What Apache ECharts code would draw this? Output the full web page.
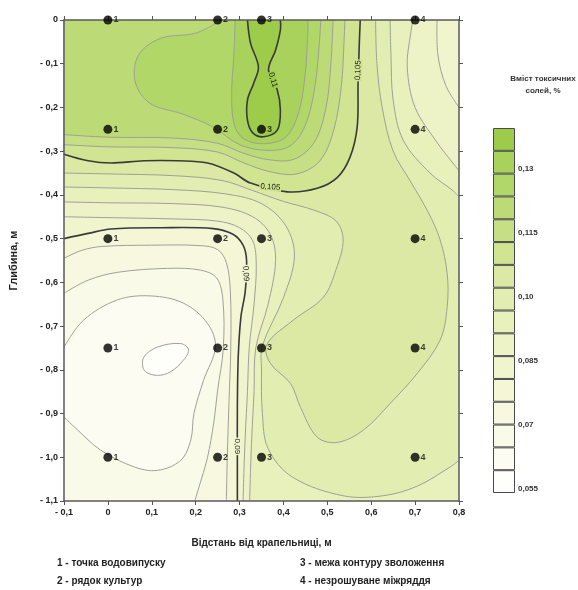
<!DOCTYPE html>
<html>
<head>
<meta charset="utf-8">
<script src="https://cdn.jsdelivr.net/npm/echarts@6/dist/echarts.min.js"></script>
<style>
  html, body { margin: 0; padding: 0; background: #ffffff; }
  #chart { width: 578px; height: 590px; }
</style>
</head>
<body>
<div id="chart"></div>
<script>
// Sampling points: distance from the dripper (m) and depth (m)
const pointX = [0, 0.25, 0.35, 0.7];
const pointY = [0, -0.25, -0.5, -0.75, -1.0];
const pointNames = ['1', '2', '3', '4'];

// Colour-scale boxes (toxic salt content, %), bottom to top
const legendLevels = [0.055, 0.06, 0.065, 0.07, 0.075, 0.08, 0.085, 0.09,
                      0.095, 0.1, 0.105, 0.11, 0.115, 0.12, 0.125, 0.13];
const legendTicks = [0.055, 0.07, 0.085, 0.1, 0.115, 0.13];
const legendTickText = ['0,055', '0,07', '0,085', '0,10', '0,115', '0,13'];

// Isolines of toxic salt content: [distance, depth]
const isoB = [[-0.1,-0.5],[-0.045,-0.488],[0.007,-0.478],[0.12,-0.475],[0.24,-0.477],[0.285,-0.49],
  [0.308,-0.515],[0.316,-0.55],[0.313,-0.62],[0.303,-0.68],[0.297,-0.77],[0.295,-0.886],[0.295,-1.0],[0.295,-1.1]];
const iso087 = [[-0.1,-0.545],[-0.06,-0.527],[-0.015,-0.518],[0.1,-0.515],[0.21,-0.516],[0.25,-0.525],
  [0.27,-0.555],[0.279,-0.62],[0.28,-0.75],[0.276,-0.87],[0.272,-1.0],[0.27,-1.1]];
const iso084 = [[-0.1,-0.625],[-0.045,-0.595],[0.022,-0.577],[0.136,-0.568],[0.211,-0.572],[0.248,-0.59],
  [0.262,-0.64],[0.263,-0.75],[0.25,-0.847],[0.241,-0.922],[0.227,-1.0],[0.207,-1.07],[0.198,-1.1]];
const iso081 = [[-0.1,-0.748],[-0.055,-0.686],[0.022,-0.64],[0.098,-0.631],[0.173,-0.648],[0.227,-0.694],
  [0.245,-0.748],[0.218,-0.824],[0.196,-0.9],[0.189,-0.96],[0.166,-1.007],[0.113,-1.03],[0.06,-1.022],
  [-0.016,-0.984],[-0.077,-0.93],[-0.1,-0.908]];
const iso078 = [[0.082,-0.771],[0.113,-0.748],[0.166,-0.74],[0.184,-0.755],[0.166,-0.785],[0.136,-0.808],
  [0.105,-0.812],[0.082,-0.8]];
const isoP4 = [[-0.1,-0.45],[0.0,-0.452],[0.15,-0.455],[0.25,-0.46],[0.3,-0.475],[0.33,-0.505],[0.338,-0.56],
  [0.333,-0.65],[0.322,-0.75],[0.318,-0.85],[0.313,-0.95],[0.31,-1.03],[0.308,-1.1]];
const isoP4b = [[0.8,-0.2],[0.77,-0.15],[0.752,-0.08],[0.75,0]];
const isoP3 = [[-0.1,-0.416],[0.0,-0.418],[0.15,-0.42],[0.26,-0.428],[0.33,-0.45],[0.37,-0.49],[0.382,-0.55],
  [0.365,-0.65],[0.337,-0.75],[0.333,-0.85],[0.328,-0.95],[0.325,-1.03],[0.323,-1.1]];
const isoP3b = [[0.8,-0.345],[0.786,-0.327],[0.75,-0.28],[0.7,-0.2],[0.682,-0.107],[0.69,-0.03],[0.695,0]];
const isoP2 = [[-0.1,-0.382],[0.0,-0.384],[0.15,-0.388],[0.27,-0.398],[0.35,-0.42],[0.405,-0.47],[0.425,-0.54],
  [0.4,-0.635],[0.352,-0.745],[0.35,-0.8],[0.352,-0.9],[0.365,-0.98],[0.42,-1.045],[0.536,-1.088],
  [0.627,-1.088],[0.705,-1.066],[0.78,-1.022],[0.8,-1.007]];
const isoP2b = [[0.8,-0.405],[0.786,-0.39],[0.734,-0.35],[0.673,-0.275],[0.65,-0.183],[0.645,-0.08],[0.643,0]];
const isoP1 = [[-0.1,-0.35],[0.0,-0.352],[0.15,-0.356],[0.26,-0.367],[0.33,-0.39],[0.4,-0.415],[0.47,-0.435],
  [0.52,-0.46],[0.536,-0.503],[0.52,-0.57],[0.491,-0.634],[0.423,-0.686],[0.362,-0.742],[0.37,-0.785],
  [0.416,-0.831],[0.439,-0.886],[0.477,-0.954],[0.523,-0.966],[0.582,-0.938],[0.643,-0.877],[0.705,-0.808],
  [0.757,-0.732],[0.773,-0.657],[0.773,-0.579],[0.757,-0.503],[0.73,-0.44],[0.69,-0.37],[0.65,-0.3],
  [0.625,-0.2],[0.613,-0.1],[0.61,0]];
const isoA = [[-0.1,-0.307],[-0.045,-0.322],[0.007,-0.327],[0.082,-0.322],[0.16,-0.322],[0.227,-0.327],
  [0.287,-0.35],[0.325,-0.373],[0.409,-0.393],[0.477,-0.385],[0.523,-0.36],[0.552,-0.313],[0.568,-0.245],
  [0.57,-0.145],[0.573,-0.05],[0.575,0]];
const isoU1 = [[-0.1,-0.285],[0.0,-0.29],[0.15,-0.292],[0.25,-0.302],[0.31,-0.327],[0.37,-0.347],[0.43,-0.352],
  [0.483,-0.322],[0.515,-0.25],[0.532,-0.15],[0.538,-0.05],[0.54,0]];
const isoU2 = [[-0.1,-0.262],[0.0,-0.268],[0.15,-0.27],[0.25,-0.282],[0.31,-0.305],[0.37,-0.32],[0.425,-0.318],
  [0.47,-0.28],[0.497,-0.2],[0.508,-0.1],[0.513,0]];
const isoU3 = [[0.26,0],[0.2,-0.03],[0.12,-0.042],[0.07,-0.08],[0.062,-0.14],[0.095,-0.19],[0.17,-0.215],
  [0.24,-0.245],[0.3,-0.285],[0.36,-0.298],[0.415,-0.288],[0.45,-0.24],[0.472,-0.15],[0.482,-0.05],[0.485,0]];
const isoU4 = [[0.29,0],[0.287,-0.08],[0.282,-0.17],[0.288,-0.24],[0.31,-0.272],[0.355,-0.283],[0.405,-0.268],
  [0.435,-0.21],[0.45,-0.12],[0.455,-0.04],[0.456,0]];
const isoC = [[0.318,0],[0.325,-0.053],[0.343,-0.107],[0.332,-0.145],[0.318,-0.183],[0.318,-0.229],[0.33,-0.258],
  [0.355,-0.267],[0.386,-0.252],[0.393,-0.206],[0.386,-0.16],[0.366,-0.114],[0.382,-0.069],[0.393,-0.023],[0.393,0]];

// Isoline levels, %
const contours = [
  { key: 'B',   level: 0.09,  pts: isoB,   band: 5,  major: true },
  { key: 'b87', level: 0.087, pts: iso087, band: 4 },
  { key: 'b84', level: 0.084, pts: iso084, band: 3 },
  { key: 'b81', level: 0.081, pts: iso081, band: 2 },
  { key: 'b78', level: 0.078, pts: iso078, band: 1, closed: true },
  { key: 'P4',  level: 0.093, pts: isoP4,  band: 6 },
  { key: 'P4b', level: 0.093, pts: isoP4b, band: 6 },
  { key: 'P3',  level: 0.096, pts: isoP3,  band: 7 },
  { key: 'P3b', level: 0.096, pts: isoP3b, band: 7 },
  { key: 'P2',  level: 0.099, pts: isoP2,  band: 8 },
  { key: 'P2b', level: 0.099, pts: isoP2b, band: 8 },
  { key: 'P1',  level: 0.102, pts: isoP1,  band: 9 },
  { key: 'A',   level: 0.105, pts: isoA,   band: 10, major: true },
  { key: 'U1',  level: 0.106, pts: isoU1,  band: 11 },
  { key: 'U2',  level: 0.107, pts: isoU2,  band: 12 },
  { key: 'U3',  level: 0.108, pts: isoU3,  band: 13 },
  { key: 'U4',  level: 0.109, pts: isoU4,  band: 14 },
  { key: 'C',   level: 0.11,  pts: isoC,   band: 15, major: true }
];

// Labelled isolines: which line and where along it
const lineLabels = [
  { line: 'A', at: [0.37, -0.382] },
  { line: 'A', at: [0.57, -0.115] },
  { line: 'C', at: [0.376, -0.137] },
  { line: 'B', at: [0.314, -0.58] },
  { line: 'B', at: [0.295, -0.975] }
];

// Band colours, lowest to highest
const bandColors = ['#fefefb', '#fcfcf3', '#fafae9', '#f7f8df', '#f4f6d6', '#f1f5ce', '#edf3c6', '#e8f0bc',
                    '#e2edb1', '#dbe9a4', '#d0e492', '#c6df84', '#bcdb76', '#b2d769', '#a8d25b', '#9ccc4a'];

const XMIN = -0.1, XMAX = 0.8, YMIN = -1.1, YMAX = 0, PAD = 0.25;
const CORNER = {
  TL: [XMIN - PAD, YMAX + PAD], TR: [XMAX + PAD, YMAX + PAD],
  BR: [XMAX + PAD, YMIN - PAD], BL: [XMIN - PAD, YMIN - PAD]
};

// Push an isoline end that lies on the frame outwards, so filled regions close outside the plot
function ext(p) {
  const e = 1e-6;
  if (p[0] <= XMIN + e) return [XMIN - PAD, p[1]];
  if (p[0] >= XMAX - e) return [XMAX + PAD, p[1]];
  if (p[1] >= YMAX - e) return [p[0], YMAX + PAD];
  if (p[1] <= YMIN + e) return [p[0], YMIN - PAD];
  return null;
}
function ring(parts) {
  const out = [];
  parts.forEach(part => {
    if (typeof part === 'string') { out.push(CORNER[part]); return; }
    const a = ext(part[0]), b = ext(part[part.length - 1]);
    if (a) out.push(a);
    part.forEach(p => out.push(p));
    if (b) out.push(b);
  });
  return out;
}

// Filled regions: sub-level basins first (descending), then super-level areas (ascending)
const fills = [
  { band: 4,  parts: [isoB, 'BL'] },
  { band: 3,  parts: [iso087, 'BL'] },
  { band: 2,  parts: [iso084, 'BL'] },
  { band: 1,  parts: [iso081] },
  { band: 0,  parts: [iso078] },
  { band: 6,  parts: [isoP4, 'BR', isoP4b, 'TL'] },
  { band: 7,  parts: [isoP3, 'BR', isoP3b, 'TL'] },
  { band: 8,  parts: [isoP2, isoP2b, 'TL'] },
  { band: 9,  parts: [isoP1, 'TL'] },
  { band: 10, parts: [isoA, 'TL'] },
  { band: 11, parts: [isoU1, 'TL'] },
  { band: 12, parts: [isoU2, 'TL'] },
  { band: 13, parts: [isoU3] },
  { band: 14, parts: [isoU4] },
  { band: 15, parts: [isoC] }
];

const SMOOTH = 0.35;
const FONT = 'Liberation Sans, Arial, sans-serif';

function fmtTick(v) {
  if (Math.abs(v) < 1e-9) return '0';
  const s = Math.abs(v).toFixed(1).replace('.', ',');
  return v < 0 ? '- ' + s : s;
}
function fmtLevel(v) { return String(v).replace('.', ','); }

const dots = [];
pointY.forEach(y => pointX.forEach((x, i) => dots.push([x, y, i])));

const chart = echarts.init(document.getElementById('chart'), null, { renderer: 'canvas' });

const tickStyle = { color: '#555', width: 1 };
const axisLineStyle = { color: '#5a5a5a', width: 1.5 };
const tickLabel = { fontSize: 9, fontWeight: 'bold', color: '#222', fontFamily: FONT };

chart.setOption({
  animation: false,
  textStyle: { fontFamily: FONT },
  grid: [
    { left: 63, top: 20, width: 396, height: 481, show: true, backgroundColor: bandColors[5], borderWidth: 0 },
    { left: 493, top: 128, width: 22, height: 365 }
  ],
  xAxis: [
    {
      gridIndex: 0, type: 'value', min: XMIN, max: XMAX, interval: 0.1, position: 'bottom', z: 10,
      axisLine: { show: true, onZero: false, lineStyle: axisLineStyle },
      axisTick: { show: true, inside: false, length: 4, lineStyle: tickStyle },
      axisLabel: Object.assign({ formatter: fmtTick, margin: 7 }, tickLabel),
      splitLine: { show: false },
      name: 'Відстань від крапельниці, м', nameLocation: 'middle', nameGap: 37,
      nameTextStyle: { fontSize: 10, fontWeight: 'bold', color: '#222', fontFamily: FONT }
    },
    {
      gridIndex: 0, type: 'value', min: XMIN, max: XMAX, interval: 0.1, position: 'top', z: 10,
      axisLine: { show: true, onZero: false, lineStyle: axisLineStyle },
      axisTick: { show: true, inside: false, length: 4, lineStyle: tickStyle },
      axisLabel: { show: false }, splitLine: { show: false }
    },
    { gridIndex: 1, type: 'value', min: 0, max: 1, show: false }
  ],
  yAxis: [
    {
      gridIndex: 0, type: 'value', min: YMIN, max: YMAX, interval: 0.1, position: 'left', z: 10,
      axisLine: { show: true, onZero: false, lineStyle: axisLineStyle },
      axisTick: { show: true, inside: false, length: 4, lineStyle: tickStyle },
      axisLabel: Object.assign({ formatter: fmtTick, margin: 6 }, tickLabel),
      splitLine: { show: false },
      name: 'Глибина, м', nameLocation: 'middle', nameGap: 45, nameRotate: 90,
      nameTextStyle: { fontSize: 11, fontWeight: 'bold', color: '#222', fontFamily: FONT }
    },
    {
      gridIndex: 0, type: 'value', min: YMIN, max: YMAX, interval: 0.1, position: 'right', z: 10,
      axisLine: { show: true, onZero: false, lineStyle: axisLineStyle },
      axisTick: { show: true, inside: false, length: 4, lineStyle: tickStyle },
      axisLabel: { show: false }, splitLine: { show: false }
    },
    {
      gridIndex: 1, type: 'category', data: legendLevels.map(String), show: false
    },
    {
      gridIndex: 1, type: 'value', min: 0.05392, max: 0.13962, position: 'right',
      axisLine: { show: false }, axisTick: { show: false }, splitLine: { show: false },
      axisLabel: {
        customValues: legendTicks, margin: 3, fontSize: 8, fontWeight: 'bold', color: '#333', fontFamily: FONT,
        formatter: v => {
          let k = 0;
          legendTicks.forEach((t, i) => { if (Math.abs(t - v) < Math.abs(legendTicks[k] - v)) k = i; });
          return legendTickText[k];
        }
      }
    }
  ],
  graphic: [
    { type: 'text', x: 543, y: 73, silent: true,
      style: { text: 'Вміст токсичних\nсолей, %', font: 'bold 8px ' + FONT, fill: '#333',
               textAlign: 'center', align: 'center', lineHeight: 12 } },
    { type: 'text', x: 57, y: 558, silent: true,
      style: { text: '1 - точка водовипуску', font: 'bold 10px ' + FONT, fill: '#222' } },
    { type: 'text', x: 57, y: 576, silent: true,
      style: { text: '2 - рядок культур', font: 'bold 10px ' + FONT, fill: '#222' } },
    { type: 'text', x: 300, y: 558, silent: true,
      style: { text: '3 - межа контуру зволоження', font: 'bold 10px ' + FONT, fill: '#222' } },
    { type: 'text', x: 300, y: 576, silent: true,
      style: { text: '4 - незрошуване міжряддя', font: 'bold 10px ' + FONT, fill: '#222' } }
  ],
  series: [
    {
      // colour bands between isolines
      type: 'custom', xAxisIndex: 0, yAxisIndex: 0, clip: true, silent: true, z: 1,
      data: fills.map(() => [0.35, -0.55]),
      renderItem: (params, api) => {
        const f = fills[params.dataIndex];
        const pts = ring(f.parts).map(p => api.coord(p));
        const c = bandColors[f.band];
        return { type: 'polygon', shape: { points: pts, smooth: SMOOTH },
                 style: { fill: c, stroke: c, lineWidth: 0.6 } };
      }
    },
    {
      // isolines
      type: 'custom', xAxisIndex: 0, yAxisIndex: 0, clip: true, silent: true, z: 3,
      data: contours.map(() => [0.35, -0.55]),
      renderItem: (params, api) => {
        const c = contours[params.dataIndex];
        const pts = c.pts.map(p => api.coord(p));
        const style = c.major
          ? { fill: 'none', stroke: '#3a3a3a', lineWidth: 1.6 }
          : { fill: 'none', stroke: '#a0a098', lineWidth: 1 };
        return { type: c.closed ? 'polygon' : 'polyline', shape: { points: pts, smooth: SMOOTH }, style };
      }
    },
    {
      // isoline value labels
      type: 'custom', xAxisIndex: 0, yAxisIndex: 0, clip: true, silent: true, z: 4,
      data: lineLabels.map(() => [0.35, -0.55]),
      renderItem: (params, api) => {
        const lb = lineLabels[params.dataIndex];
        const line = contours.find(c => c.key === lb.line);
        let best = 0, bd = Infinity;
        line.pts.forEach((p, i) => {
          const d = (p[0] - lb.at[0]) ** 2 + (p[1] - lb.at[1]) ** 2;
          if (d < bd) { bd = d; best = i; }
        });
        const a = api.coord(line.pts[Math.max(0, best - 1)]);
        const b = api.coord(line.pts[Math.min(line.pts.length - 1, best + 1)]);
        let ang = Math.atan2(b[1] - a[1], b[0] - a[0]);
        if (ang > Math.PI / 2) ang -= Math.PI;
        if (ang <= -Math.PI / 2) ang += Math.PI;
        const c = api.coord(lb.at);
        return {
          type: 'text', x: c[0], y: c[1], rotation: -ang,
          style: { text: fmtLevel(line.level), font: '8px ' + FONT, fill: '#222',
                   align: 'center', verticalAlign: 'middle',
                   backgroundColor: bandColors[line.band], padding: [0, 1] }
        };
      }
    },
    {
      // sampling points
      type: 'scatter', xAxisIndex: 0, yAxisIndex: 0, clip: false, z: 12,
      symbolSize: 9, itemStyle: { color: '#000' },
      data: dots,
      label: {
        show: true, position: 'right', distance: 1,
        formatter: p => pointNames[p.data[2]],
        fontSize: 9, fontWeight: 'bold', color: '#111', fontFamily: FONT
      }
    },
    {
      // colour scale
      type: 'bar', xAxisIndex: 2, yAxisIndex: 2, barWidth: '100%', barCategoryGap: '0%', silent: true,
      itemStyle: { borderColor: '#4a4a4a', borderWidth: 1 },
      data: legendLevels.map((lv, i) => ({ value: 1, itemStyle: { color: bandColors[i] } }))
    }
  ]
});
</script>
</body>
</html>
